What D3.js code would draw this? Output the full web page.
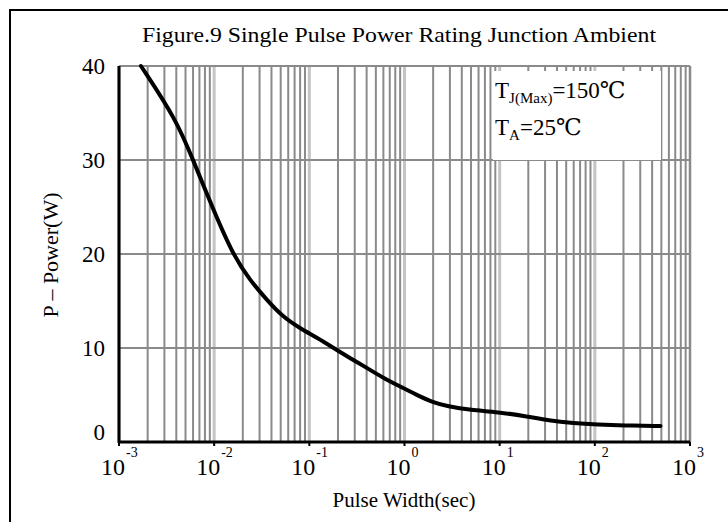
<!DOCTYPE html>
<html>
<head>
<meta charset="utf-8">
<script src="https://cdn.jsdelivr.net/npm/d3@7"></script>
<style>
  body { margin: 0; background: #fff; }
  svg text { font-family: "Liberation Serif", "DejaVu Serif", "Times New Roman", serif; fill: #000; }
</style>
</head>
<body>
<div id="chart"></div>
<script>
// values
const pulseWidth = [0.0017, 0.004, 0.006, 0.01, 0.0158, 0.0238, 0.0359, 0.0528, 0.08, 0.12, 0.18,
    0.27, 0.4, 0.6, 0.9, 1.35, 2.0, 2.8, 5, 9.5, 20, 32, 60, 107, 200, 490];
const power = [40, 34.3, 30, 24.5, 19.9, 17.2, 15.1, 13.3, 12.1, 11.1, 10.0,
    8.9, 7.9, 6.8, 5.9, 5.0, 4.2, 3.8, 3.4, 3.2, 2.7, 2.3, 2.0, 1.85, 1.75, 1.7];
const yTicks = [0, 10, 20, 30, 40];
const xExponents = [-3, -2, -1, 0, 1, 2, 3];

const W = 728, H = 522;
const svg = d3.select("#chart").append("svg")
    .attr("width", W)
    .attr("height", H);

// outer frame (only top and left visible in the original crop)
svg.append("rect")
    .attr("x", 10).attr("y", 10)
    .attr("width", 760).attr("height", 560)
    .attr("fill", "none")
    .attr("stroke", "#000")
    .attr("stroke-width", 2);

const x = d3.scaleLog().domain([1e-3, 1e3]).range([119, 690]);
const y = d3.scaleLinear().domain([0, 40]).range([442, 66]);

// minor vertical grid (2..9 in each decade)
const minors = [];
xExponents.slice(0, -1).forEach(function(e) {
    for (let k = 2; k <= 9; k++) minors.push(k * Math.pow(10, e));
});
const grid = svg.append("g");
grid.selectAll(".dec")
    .data(xExponents.map(function(e) { return Math.pow(10, e); }))
    .enter().append("line")
    .attr("x1", d => x(d)).attr("x2", d => x(d))
    .attr("y1", y(40)).attr("y2", y(0))
    .attr("stroke", "#c4c4c4")
    .attr("stroke-width", 3);
grid.selectAll(".minor")
    .data(minors)
    .enter().append("line")
    .attr("x1", d => x(d)).attr("x2", d => x(d))
    .attr("y1", y(40)).attr("y2", y(0))
    .attr("stroke", "#8a8a8a")
    .attr("stroke-width", 2);
grid.selectAll(".hz")
    .data(yTicks.slice(1))
    .enter().append("line")
    .attr("x1", x(1e-3)).attr("x2", x(1e3))
    .attr("y1", d => y(d)).attr("y2", d => y(d))
    .attr("stroke", "#8a8a8a")
    .attr("stroke-width", 2);
grid.append("line")
    .attr("x1", x(1e3)).attr("x2", x(1e3))
    .attr("y1", y(40)).attr("y2", y(0))
    .attr("stroke", "#8a8a8a")
    .attr("stroke-width", 2);

// legend box covering the grid
svg.append("rect")
    .attr("x", 493).attr("y", 71)
    .attr("width", 168).attr("height", 89)
    .attr("fill", "#fff");
const leg = svg.append("g").style("font-size", "23px");
const t1 = leg.append("text").attr("x", 495).attr("y", 98);
t1.append("tspan").text("T");
t1.append("tspan").attr("dy", 5).style("font-size", "15px").text("J(Max)");
t1.append("tspan").attr("dy", -5).text("=150℃");
const t2 = leg.append("text").attr("x", 495).attr("y", 135);
t2.append("tspan").text("T");
t2.append("tspan").attr("dy", 5).style("font-size", "15px").text("A");
t2.append("tspan").attr("dy", -5).text("=25℃");

// curve (basis spline to smooth out reading noise)
const line = d3.line()
    .x(d => x(d[0]))
    .y(d => y(d[1]))
    .curve(d3.curveBasis);
svg.append("path")
    .datum(pulseWidth.map((d, i) => [d, power[i]]))
    .attr("d", line)
    .attr("fill", "none")
    .attr("stroke", "#000")
    .attr("stroke-width", 4)
    .attr("stroke-linecap", "round");

// axes lines
svg.append("line")
    .attr("x1", x(1e-3)).attr("x2", x(1e-3))
    .attr("y1", y(40)).attr("y2", y(0) + 1)
    .attr("stroke", "#000").attr("stroke-width", 3);
svg.append("line")
    .attr("x1", x(1e-3)).attr("x2", x(1e3))
    .attr("y1", y(0)).attr("y2", y(0))
    .attr("stroke", "#000").attr("stroke-width", 3);
svg.selectAll(".xtick")
    .data(xExponents)
    .enter().append("line")
    .attr("x1", d => x(Math.pow(10, d))).attr("x2", d => x(Math.pow(10, d)))
    .attr("y1", y(0)).attr("y2", y(0) + 4)
    .attr("stroke", "#000").attr("stroke-width", 2);

// y tick labels
svg.selectAll(".ylab")
    .data(yTicks)
    .enter().append("text")
    .attr("x", 105)
    .attr("y", d => d === 0 ? y(0) - 2 : y(d) + 8)
    .attr("text-anchor", "end")
    .style("font-size", "23px")
    .text(d => d);

// x tick labels 10^n
const xl = svg.selectAll(".xlab")
    .data(xExponents)
    .enter().append("g");
xl.append("text")
    .attr("x", d => x(Math.pow(10, d)) + 6)
    .attr("y", 475)
    .attr("text-anchor", "end")
    .style("font-size", "24px")
    .text("10");
xl.append("text")
    .attr("x", d => x(Math.pow(10, d)) + 7)
    .attr("y", 457)
    .style("font-size", "14px")
    .text(d => d);

// titles
svg.append("text")
    .attr("x", 399).attr("y", 42)
    .attr("text-anchor", "middle")
    .attr("textLength", 514)
    .attr("lengthAdjust", "spacingAndGlyphs")
    .style("font-size", "22px")
    .text("Figure.9 Single Pulse Power Rating Junction Ambient");
svg.append("text")
    .attr("x", 404).attr("y", 507)
    .attr("text-anchor", "middle")
    .style("font-size", "21px")
    .text("Pulse Width(sec)");
svg.append("text")
    .attr("transform", "translate(58,255) rotate(-90)")
    .attr("text-anchor", "middle")
    .style("font-size", "22px")
    .text("P – Power(W)");
</script>
</body>
</html>
